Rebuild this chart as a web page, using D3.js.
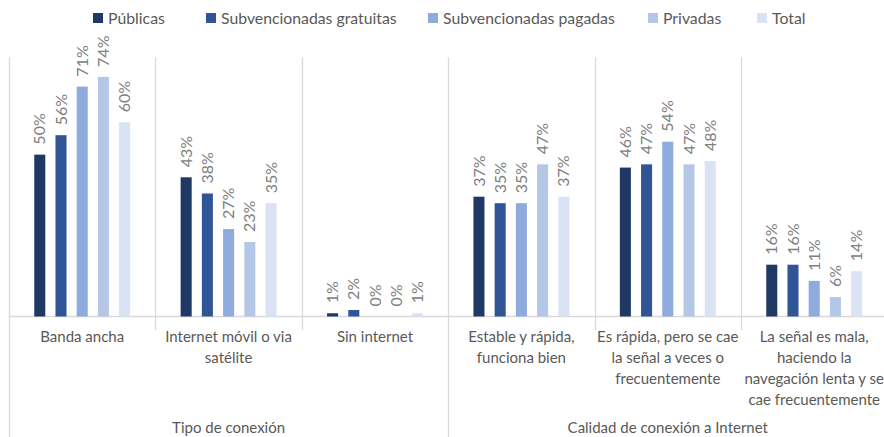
<!DOCTYPE html>
<html>
<head>
<meta charset="utf-8">
<script src="https://cdn.jsdelivr.net/npm/d3@7"></script>
<style>
  html, body { margin: 0; padding: 0; background: #fff; }
  svg { display: block; }
  text { font-family: Lato, "Open Sans", sans-serif; }
</style>
</head>
<body>
<svg id="chart" width="884" height="437"></svg>
<script>
// Categories (with manual line breaks) and the two category groups
const categories = [
  ["Banda ancha"],
  ["Internet móvil o via", "satélite"],
  ["Sin internet"],
  ["Estable y rápida,", "funciona bien"],
  ["Es rápida, pero se cae", "la señal a veces o", "frecuentemente"],
  ["La señal es mala,", "haciendo la", "navegación lenta y se", "cae frecuentemente"]
];
const groups = ["Tipo de conexión", "Calidad de conexión a Internet"];
const groupSizes = [3, 3];

// Series values (%) per category
const seriesNames = ["Públicas", "Subvencionadas gratuitas", "Subvencionadas pagadas", "Privadas", "Total"];
const publicas       = [50, 43, 1, 37, 46, 16];
const subvGratuitas  = [56, 38, 2, 35, 47, 16];
const subvPagadas    = [71, 27, 0, 35, 54, 11];
const privadas       = [74, 23, 0, 47, 47, 6];
const total          = [60, 35, 1, 37, 48, 14];
const seriesColors = ["#1f3864", "#2f5597", "#8faadc", "#b4c7e7", "#dae3f3"];

const series = [publicas, subvGratuitas, subvPagadas, privadas, total];

const svg = d3.select("#chart");
const catIdx = categories.map((_, i) => i);

const x = d3.scaleBand().domain(catIdx).range([9, 887.4]).paddingInner(0).paddingOuter(0);
const xs = d3.scaleBand().domain(d3.range(seriesNames.length))
  .range([0, x.bandwidth()]).paddingInner(0.48).paddingOuter(1.19);
const y = d3.scaleLinear().domain([0, 80]).range([316.5, 57.5]);

const gridColor = "#d9d9d9";

// Category separators (short) and group separators (full height)
const groupStarts = [0];
groupSizes.forEach((s, i) => groupStarts.push(groupStarts[i] + s));
catIdx.forEach(i => {
  const xx = Math.round(x(i)) + 0.5;
  const isGroup = groupStarts.includes(i);
  svg.append("line")
    .attr("x1", xx).attr("x2", xx)
    .attr("y1", y(80)).attr("y2", isGroup ? 437 : 330)
    .attr("stroke", gridColor).attr("stroke-width", 1.3);
});

// Category axis baseline
svg.append("line")
  .attr("x1", 9).attr("x2", 884)
  .attr("y1", y(0)).attr("y2", y(0))
  .attr("stroke", gridColor).attr("stroke-width", 1.3);

// Bars
series.forEach((vals, s) => {
  svg.append("g").selectAll("rect").data(vals).join("rect")
    .attr("x", (d, i) => x(i) + xs(s))
    .attr("width", xs.bandwidth())
    .attr("y", d => y(d))
    .attr("height", d => y(0) - y(d))
    .attr("fill", seriesColors[s]);
});

// Rotated value labels
series.forEach((vals, s) => {
  svg.append("g").selectAll("text").data(vals).join("text")
    .attr("transform", (d, i) => {
      const cx = x(i) + xs(s) + xs.bandwidth() / 2;
      return `translate(${cx},${y(d) - 10}) rotate(-90)`;
    })
    .attr("dy", "0.35em")
    .attr("text-anchor", "start")
    .attr("fill", "#808080")
    .attr("font-size", 16)
    .text(d => d + "%");
});

// Category labels
catIdx.forEach(i => {
  const t = svg.append("text")
    .attr("text-anchor", "middle")
    .attr("fill", "#595959")
    .attr("font-size", 15);
  categories[i].forEach((line, k) => {
    t.append("tspan")
      .attr("x", x(i) + x.bandwidth() / 2)
      .attr("y", 342 + k * 21)
      .text(line);
  });
});

// Group labels
groups.forEach((g, gi) => {
  const a = x(groupStarts[gi]);
  const b = x(groupStarts[gi] + groupSizes[gi] - 1) + x.bandwidth();
  svg.append("text")
    .attr("x", (a + b) / 2).attr("y", 433)
    .attr("text-anchor", "middle")
    .attr("fill", "#595959")
    .attr("font-size", 15)
    .text(g);
});

// Legend
const legendX = [93, 206, 428, 648, 757];
seriesNames.forEach((n, s) => {
  const g = svg.append("g").attr("transform", `translate(${legendX[s]},18)`);
  g.append("rect").attr("x", 0).attr("y", -5).attr("width", 10).attr("height", 10)
    .attr("fill", seriesColors[s]);
  g.append("text").attr("x", 15).attr("y", 0).attr("dy", "0.35em")
    .attr("fill", "#595959").attr("font-size", 15.8).text(n);
});
</script>
</body>
</html>
